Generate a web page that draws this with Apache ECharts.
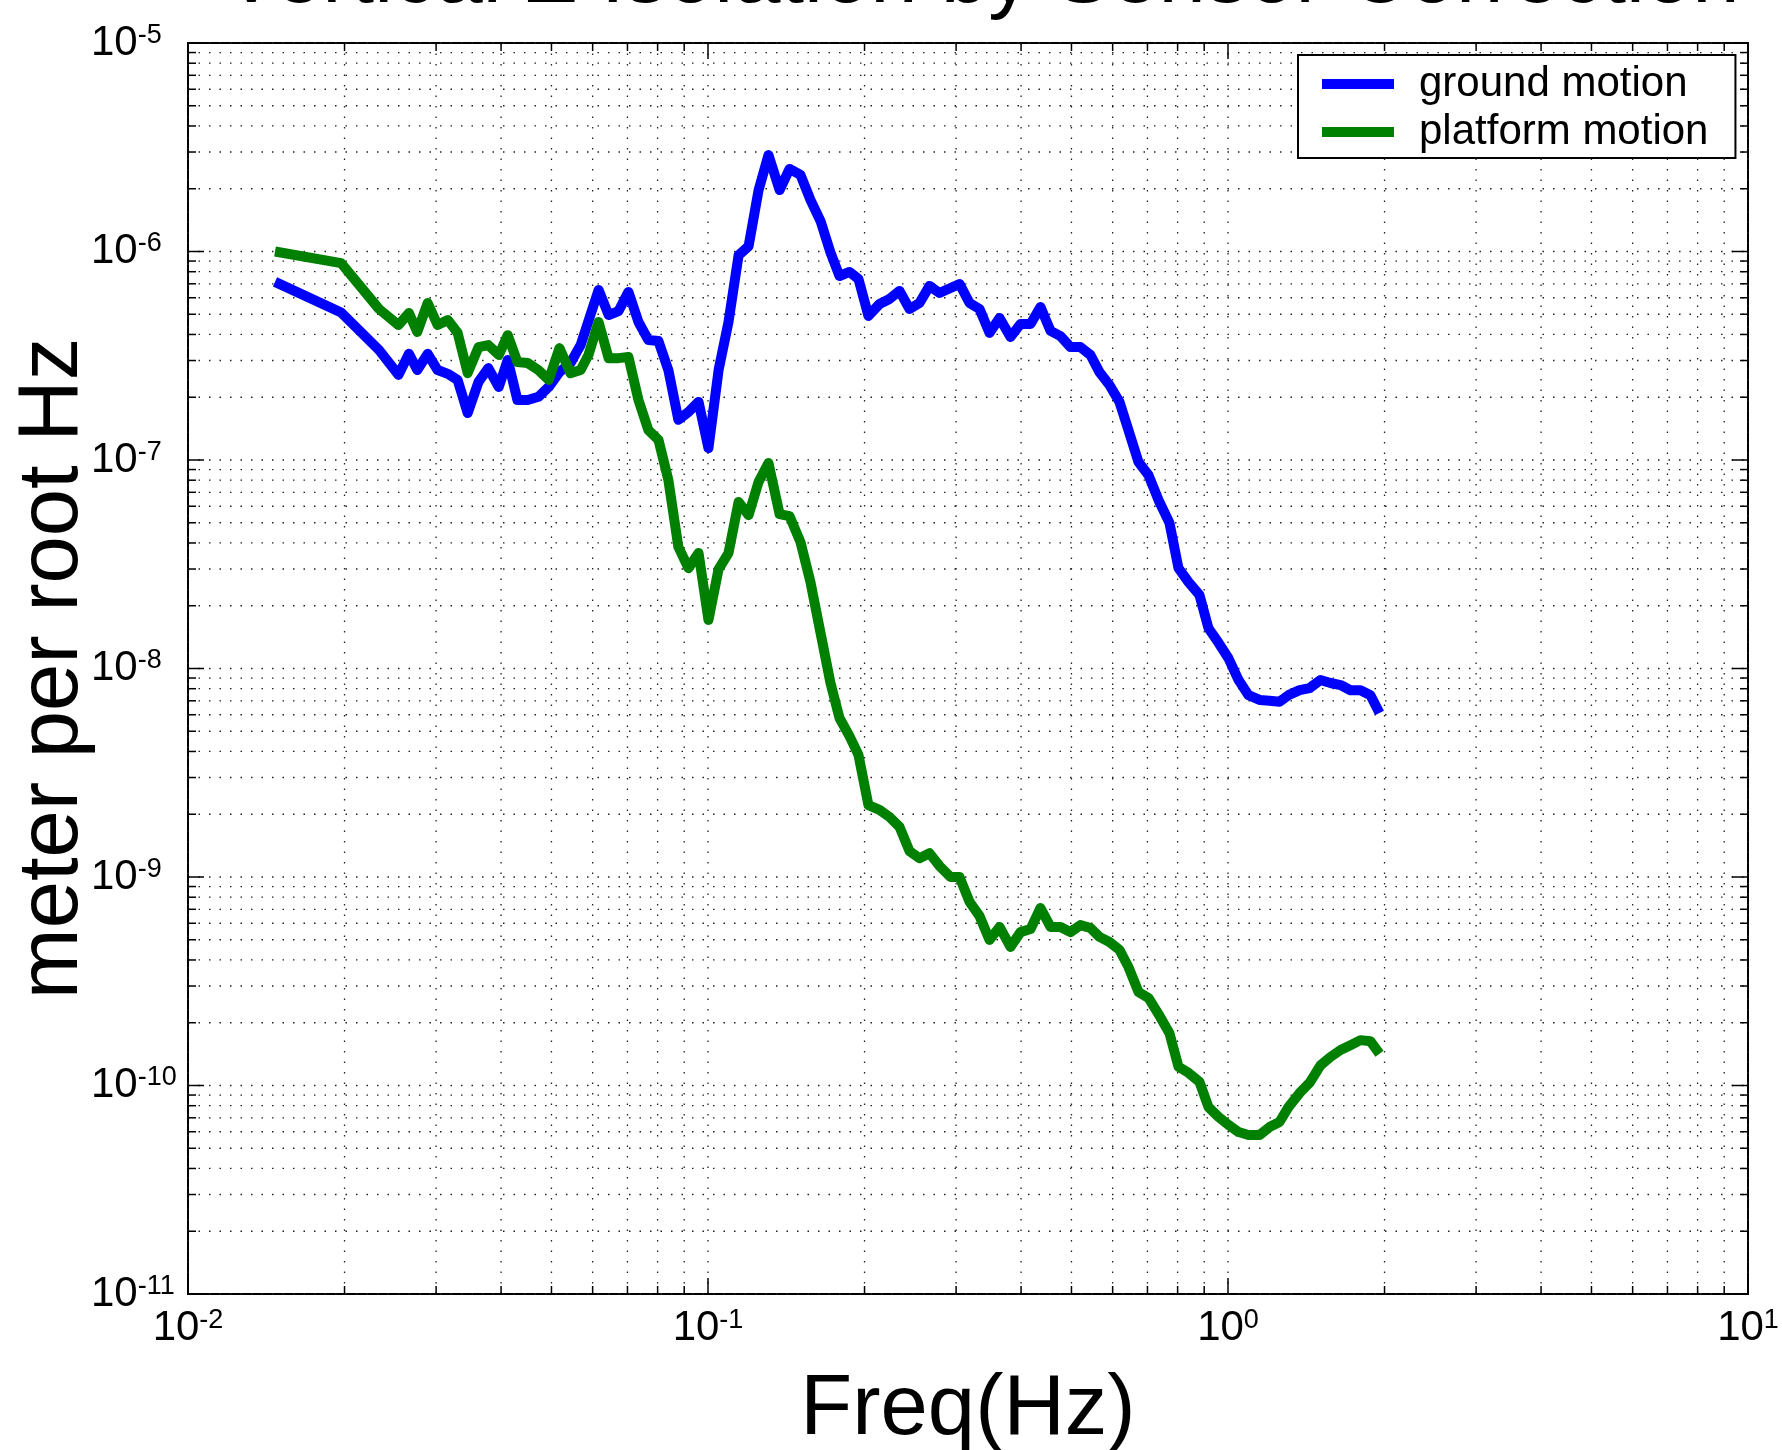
<!DOCTYPE html>
<html>
<head>
<meta charset="utf-8">
<title>Vertical Z Isolation by Sensor Correction</title>
<script src="https://cdn.jsdelivr.net/npm/echarts@6/dist/echarts.min.js"></script>
<style>
  html, body { margin: 0; padding: 0; background: #fff; }
  #chart { width: 1782px; height: 1450px; }
</style>
</head>
<body>
<div id="chart"></div>
<script>
// 频率 (Hz)，两条曲线共用
const freqHz = [0.0147, 0.0197, 0.0233, 0.0254, 0.0266, 0.0276, 0.0289, 0.0302, 0.0316, 0.0330,
  0.0345, 0.0362, 0.0378, 0.0396, 0.0412, 0.0430, 0.0450, 0.0472, 0.0494, 0.0518,
  0.0544, 0.0569, 0.0589, 0.0616, 0.0644, 0.0673, 0.0703, 0.0735, 0.0768, 0.0803,
  0.0839, 0.0877, 0.0917, 0.0959, 0.1002, 0.1048, 0.1095, 0.1145, 0.1197, 0.1251,
  0.1307, 0.1373, 0.1435, 0.1506, 0.1574, 0.1646, 0.1720, 0.1790, 0.1871, 0.1947,
  0.2035, 0.2137, 0.2234, 0.2335, 0.2441, 0.2551, 0.2667, 0.2787, 0.2927, 0.3046,
  0.3184, 0.3328, 0.3478, 0.3636, 0.3817, 0.3990, 0.4171, 0.4359, 0.4557, 0.4763,
  0.4978, 0.5203, 0.5439, 0.5660, 0.5916, 0.6184, 0.6436, 0.6727, 0.7032, 0.7350,
  0.7717, 0.8031, 0.8395, 0.8814, 0.9172, 0.9587, 1.002, 1.048, 1.095, 1.150,
  1.202, 1.256, 1.307, 1.373, 1.435, 1.506, 1.574, 1.646, 1.720, 1.798,
  1.879, 1.956]

// meter per root Hz
const groundMotion = [7.15e-7, 5.1e-7, 3.37e-7, 2.56e-7, 3.23e-7, 2.70e-7, 3.23e-7, 2.70e-7, 2.59e-7, 2.42e-7,
  1.68e-7, 2.37e-7, 2.76e-7, 2.24e-7, 3.02e-7, 1.94e-7, 1.94e-7, 2.01e-7, 2.24e-7, 2.64e-7,
  2.92e-7, 3.56e-7, 4.64e-7, 6.54e-7, 4.96e-7, 5.18e-7, 6.40e-7, 4.59e-7, 3.76e-7, 3.72e-7,
  2.70e-7, 1.56e-7, 1.70e-7, 1.90e-7, 1.14e-7, 2.70e-7, 4.59e-7, 9.6e-7, 1.06e-6, 1.97e-6,
  2.90e-6, 1.97e-6, 2.49e-6, 2.33e-6, 1.77e-6, 1.40e-6, 9.9e-7, 7.63e-7, 7.98e-7, 7.38e-7,
  4.91e-7, 5.60e-7, 5.92e-7, 6.47e-7, 5.30e-7, 5.66e-7, 6.84e-7, 6.32e-7, 6.68e-7, 6.99e-7,
  5.66e-7, 5.30e-7, 4.07e-7, 4.80e-7, 3.89e-7, 4.49e-7, 4.49e-7, 5.42e-7, 4.16e-7, 3.93e-7,
  3.48e-7, 3.48e-7, 3.19e-7, 2.64e-7, 2.29e-7, 1.90e-7, 1.39e-7, 9.78e-8, 8.46e-8, 6.43e-8,
  4.99e-8, 3.03e-8, 2.60e-8, 2.25e-8, 1.56e-8, 1.33e-8, 1.12e-8, 8.80e-9, 7.45e-9, 7.07e-9,
  7.0e-9, 6.92e-9, 7.45e-9, 7.87e-9, 8.05e-9, 8.80e-9, 8.52e-9, 8.33e-9, 7.87e-9, 7.87e-9,
  7.45e-9, 6.12e-9]

const platformMotion = [1.0e-6, 8.80e-7, 5.30e-7, 4.44e-7, 5.07e-7, 4.11e-7, 5.66e-7, 4.44e-7, 4.69e-7, 4.07e-7,
  2.61e-7, 3.48e-7, 3.56e-7, 3.19e-7, 3.97e-7, 2.95e-7, 2.92e-7, 2.70e-7, 2.42e-7, 3.44e-7,
  2.61e-7, 2.70e-7, 3.19e-7, 4.59e-7, 3.08e-7, 3.08e-7, 3.12e-7, 1.94e-7, 1.39e-7, 1.25e-7,
  8.02e-8, 3.83e-8, 3.03e-8, 3.58e-8, 1.71e-8, 3.00e-8, 3.58e-8, 6.29e-8, 5.44e-8, 7.85e-8,
  9.67e-8, 5.50e-8, 5.38e-8, 4.04e-8, 2.60e-8, 1.48e-8, 8.52e-9, 5.79e-9, 4.74e-9, 3.85e-9,
  2.21e-9, 2.10e-9, 1.94e-9, 1.74e-9, 1.33e-9, 1.23e-9, 1.30e-9, 1.13e-9, 1.00e-9, 1.00e-9,
  7.59e-10, 6.50e-10, 4.99e-10, 5.76e-10, 4.62e-10, 5.44e-10, 5.63e-10, 7.10e-10, 5.76e-10, 5.76e-10,
  5.44e-10, 5.88e-10, 5.69e-10, 5.16e-10, 4.88e-10, 4.47e-10, 3.70e-10, 2.81e-10, 2.63e-10, 2.20e-10,
  1.78e-10, 1.23e-10, 1.15e-10, 1.04e-10, 7.87e-11, 7.07e-11, 6.47e-11, 5.98e-11, 5.79e-11, 5.79e-11,
  6.32e-11, 6.68e-11, 7.87e-11, 9.20e-11, 1.03e-10, 1.25e-10, 1.37e-10, 1.48e-10, 1.56e-10, 1.65e-10,
  1.63e-10, 1.42e-10]

// 刻度标签的指数 10^n
const xTickExp = [-2, -1, 0, 1]
const yTickExp = [-11, -10, -9, -8, -7, -6, -5]

const FONT = "'Liberation Sans', Arial, Helvetica, sans-serif"
const xMin = Math.pow(10, xTickExp[0]), xMax = Math.pow(10, xTickExp[xTickExp.length - 1])
const yMin = Math.pow(10, yTickExp[0]), yMax = Math.pow(10, yTickExp[yTickExp.length - 1])

// 对数轴的网格位置 (1..9 x 10^n)，[值, 是否主刻度]
function logGrid(exps) {
  const out = []
  for (let i = 0; i < exps.length - 1; i++) {
    for (let k = 1; k <= 9; k++) out.push([k * Math.pow(10, exps[i]), k === 1 ? 1 : 0])
  }
  out.push([Math.pow(10, exps[exps.length - 1]), 1])
  return out
}

const dotStyle = { stroke: '#222', lineWidth: 1.3, lineDash: [1.5, 9] }
const tickStyle = { stroke: '#000', lineWidth: 1.5 }

function xGridItem(params, api) {
  const cs = params.coordSys
  const x = api.coord([api.value(0), yMin])[0]
  const len = api.value(2) ? 16 : 8
  const top = cs.y, bottom = cs.y + cs.height
  return { type: 'group', children: [
    { type: 'line', shape: { x1: x, y1: top, x2: x, y2: bottom }, style: dotStyle },
    { type: 'line', shape: { x1: x, y1: bottom, x2: x, y2: bottom - len }, style: tickStyle },
    { type: 'line', shape: { x1: x, y1: top, x2: x, y2: top + len }, style: tickStyle }
  ] }
}

function yGridItem(params, api) {
  const cs = params.coordSys
  const y = api.coord([xMin, api.value(1)])[1]
  const len = api.value(2) ? 16 : 8
  const left = cs.x, right = cs.x + cs.width
  return { type: 'group', children: [
    { type: 'line', shape: { x1: left, y1: y, x2: right, y2: y }, style: dotStyle },
    { type: 'line', shape: { x1: left, y1: y, x2: left + len, y2: y }, style: tickStyle },
    { type: 'line', shape: { x1: right, y1: y, x2: right - len, y2: y }, style: tickStyle }
  ] }
}

// 10^n 形式的刻度标签
const tickRich = {
  b: { fontSize: 42, lineHeight: 42, padding: [14, 0, 14, 0], color: '#000', fontFamily: FONT },
  s: { fontSize: 27, lineHeight: 27, verticalAlign: 'top', color: '#000', fontFamily: FONT }
}
const powLabel = v => '{b|10}{s|' + Math.round(Math.log10(v)) + '}'

const chart = echarts.init(document.getElementById('chart'), null, { renderer: 'canvas' })

const option = {
  backgroundColor: '#fff',
  animation: false,
  title: {
    text: 'Vertical Z Isolation by Sensor Correction',
    left: 218,
    top: -69,
    textStyle: { fontSize: 85, fontWeight: 'normal', color: '#000', fontFamily: FONT }
  },
  legend: {
    orient: 'vertical',
    left: 1298,
    top: 55,
    padding: [5, 27, 2, 24],
    backgroundColor: '#fff',
    borderColor: '#000',
    borderWidth: 2,
    itemWidth: 72,
    itemHeight: 10,
    itemGap: 0,
    icon: 'rect',
    textStyle: { fontSize: 42, lineHeight: 48, color: '#000', fontFamily: FONT, padding: [0, 0, 0, 20] },
    data: ['ground motion', 'platform motion']
  },
  grid: {
    left: 188, top: 43, width: 1560, height: 1251,
    containLabel: false, outerBoundsMode: 'none',
    show: true, borderColor: '#000', borderWidth: 2, backgroundColor: '#fff'
  },
  xAxis: {
    type: 'log', logBase: 10, min: xMin, max: xMax, splitNumber: 3,
    name: 'Freq(Hz)', nameLocation: 'middle', nameGap: 69,
    nameTextStyle: { fontSize: 85, color: '#000', fontFamily: FONT },
    axisLine: { show: false }, axisTick: { show: false }, splitLine: { show: false },
    axisLabel: { formatter: powLabel, margin: 13, rich: tickRich }
  },
  yAxis: {
    type: 'log', logBase: 10, min: yMin, max: yMax, splitNumber: 6,
    name: 'meter per root Hz', nameLocation: 'middle', nameGap: 92, nameRotate: 90,
    nameMoveOverlap: false,
    nameTextStyle: { fontSize: 85, color: '#000', fontFamily: FONT },
    axisLine: { show: false }, axisTick: { show: false }, splitLine: { show: false },
    axisLabel: { formatter: powLabel, align: 'left', margin: 97, rich: tickRich }
  },
  series: [
    {
      type: 'custom', silent: true, z: 1, clip: false,
      data: logGrid(xTickExp).map(d => [d[0], yMin, d[1]]),
      encode: { x: 0, y: 1 },
      renderItem: xGridItem
    },
    {
      type: 'custom', silent: true, z: 1, clip: false,
      data: logGrid(yTickExp).map(d => [xMin, d[0], d[1]]),
      encode: { x: 0, y: 1 },
      renderItem: yGridItem
    },
    {
      name: 'ground motion', type: 'line', z: 3,
      showSymbol: false, symbol: 'none',
      color: '#0000ff',
      lineStyle: { width: 10, color: '#0000ff', join: 'round' },
      data: freqHz.map((f, i) => [f, groundMotion[i]])
    },
    {
      name: 'platform motion', type: 'line', z: 3,
      showSymbol: false, symbol: 'none',
      color: '#008000',
      lineStyle: { width: 10, color: '#008000', join: 'round' },
      data: freqHz.map((f, i) => [f, platformMotion[i]])
    }
  ]
}

chart.setOption(option)
</script>
</body>
</html>
